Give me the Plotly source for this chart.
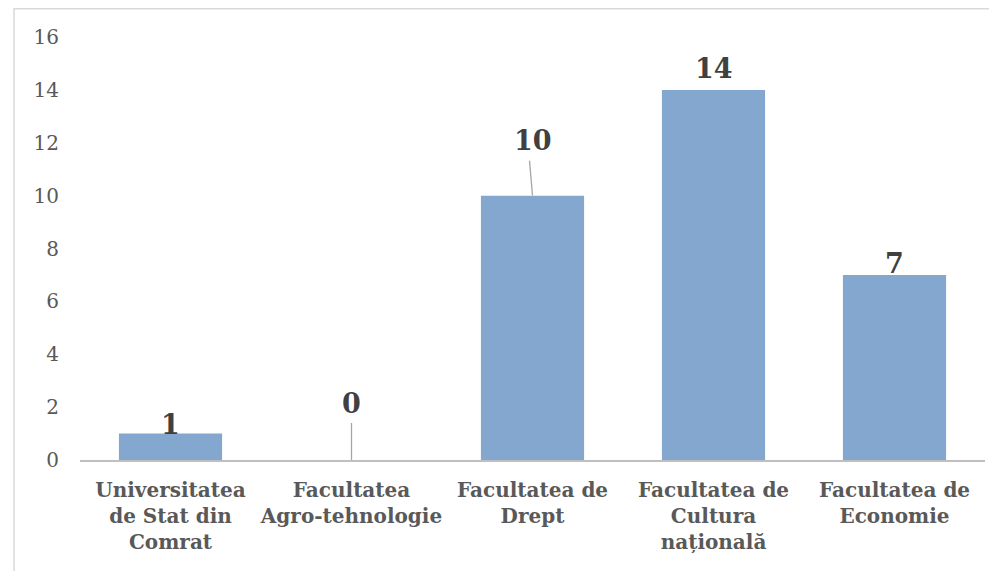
import plotly.graph_objects as go

categories = ["Universitatea<br>de Stat din<br>Comrat", "Facultatea<br>Agro-tehnologie",
              "Facultatea de<br>Drept", "Facultatea de<br>Cultura<br>națională", "Facultatea de<br>Economie"]
values = [1, 0, 10, 14, 7]
y_ticks = [0, 2, 4, 6, 8, 10, 12, 14, 16]

FONT = "DejaVu Serif"

# styling: label pixel lift above bar end, and leader-line length (px) where used
label_lift = [-8, 39, 38, 4, -6]
leader_len = [0, 37, 35, 0, 0]
leader_dx = [0, 0, -3, 0, 0]

fig = go.Figure()
fig.add_trace(go.Bar(
    x=list(range(len(categories))), y=values,
    marker=dict(color="#84A7D0", line=dict(width=0)),
    width=0.57,
))

for i, v in enumerate(values):
    fig.add_annotation(x=i, y=v, text=f"<b>{v}</b>", showarrow=False,
                       xref="x", yref="y", yanchor="bottom", yshift=label_lift[i],
                       font=dict(family=FONT, size=27, color="#404040"))
    if leader_len[i]:
        fig.add_shape(type="line", xref="x", yref="y",
                      xsizemode="pixel", xanchor=i, ysizemode="pixel", yanchor=v,
                      x0=0, y0=0, x1=leader_dx[i], y1=leader_len[i],
                      line=dict(color="#A6A6A6", width=1.3))

# outer chart border
fig.add_shape(type="rect", xref="paper", yref="paper",
              x0=-0.0729, y0=-0.5, x1=1.2, y1=1.0668,
              line=dict(color="#D9D9D9", width=1.5))

fig.update_layout(
    width=997, height=571,
    margin=dict(l=72, r=20, t=29, b=119),
    paper_bgcolor="white", plot_bgcolor="white",
    showlegend=False,
    xaxis=dict(tickmode="array", tickvals=list(range(len(categories))),
               ticktext=[f"<b>{c}</b>" for c in categories],
               range=[-0.5, len(categories) - 0.5], showgrid=False, zeroline=False,
               showline=True, linecolor="#BFBFBF", linewidth=1.5, ticks="",
               ticklabelstandoff=11,
               tickfont=dict(family=FONT, size=20, color="#595959")),
    yaxis=dict(range=[0, 16], tickvals=y_ticks, showgrid=False, zeroline=False,
               showline=False, ticks="", ticklabelstandoff=20,
               tickfont=dict(family=FONT, size=20, color="#595959")),
)

fig.write_html("out.html")
